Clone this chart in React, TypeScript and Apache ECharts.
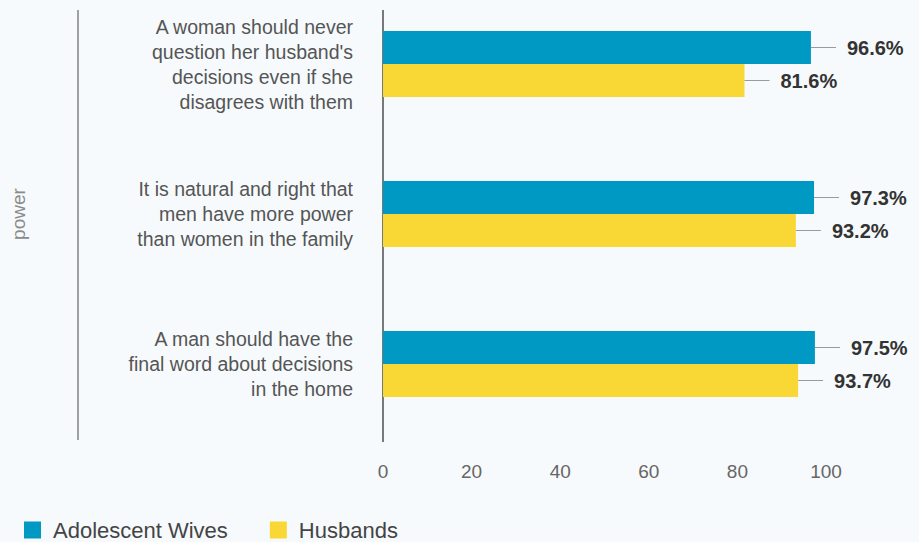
import React, { useEffect, useRef } from "react";
import * as echarts from "echarts";

const categories = [
  "A woman should never\nquestion her husband's\ndecisions even if she\ndisagrees with them",
  "It is natural and right that\nmen have more power\nthan women in the family",
  "A man should have the\nfinal word about decisions\nin the home",
];
const seriesNames = ["Adolescent Wives", "Husbands"];
const wivesValues = [96.6, 97.3, 97.5];
const husbandsValues = [81.6, 93.2, 93.7];
const xTicks = { min: 0, max: 100, interval: 20 };
const axisName = "power";

const FONT = "'Liberation Sans', Arial, Helvetica, sans-serif";
const BLUE = "#0099c4";
const YELLOW = "#f9d836";

const valueLabel = {
  show: true,
  position: "right" as const,
  distance: 0,
  formatter: (p: any) => `{l|}{v|${Number(p.value).toFixed(1)}%}`,
  rich: {
    l: { width: 25, height: 1, backgroundColor: "#9a9a9a" },
    v: {
      fontFamily: FONT,
      fontSize: 20,
      fontWeight: "bold" as const,
      color: "#333333",
      padding: [0, 0, 0, 11],
    },
  },
};

export default function App() {
  const ref = useRef<HTMLDivElement>(null);
  useEffect(() => {
    if (!ref.current) return;
    const chart = echarts.init(ref.current, null, { renderer: "svg" });
    chart.setOption({
      animation: false,
      backgroundColor: "#f6fafc",
      textStyle: { fontFamily: FONT },
      grid: {
        left: 383,
        right: 93,
        top: -11,
        height: 450,
        containLabel: false,
        outerBoundsMode: "none",
      },
      xAxis: {
        type: "value",
        min: xTicks.min,
        max: xTicks.max,
        interval: xTicks.interval,
        axisLine: { show: false },
        axisTick: { show: false },
        splitLine: { show: false },
        axisLabel: { color: "#666666", fontSize: 19, margin: 23, fontFamily: FONT },
      },
      yAxis: {
        type: "category",
        inverse: true,
        data: categories,
        name: axisName,
        nameLocation: "middle",
        nameGap: 355,
        nameRotate: 90,
        nameTextStyle: { color: "#8a8a8a", fontSize: 19, fontFamily: FONT },
        axisLine: { show: false },
        axisTick: { show: false },
        splitLine: { show: false },
        axisLabel: {
          color: "#555555",
          fontSize: 19.5,
          lineHeight: 25,
          margin: 30,
          align: "right",
          fontFamily: FONT,
        },
      },
      legend: {
        left: 19,
        top: 514,
        itemWidth: 17,
        itemHeight: 17,
        itemGap: 42,
        icon: "rect",
        textStyle: { color: "#444444", fontSize: 22, fontFamily: FONT, padding: [0, 0, 0, 7] },
        data: seriesNames,
      },
      graphic: [
        {
          type: "line",
          shape: { x1: 383, y1: 10, x2: 383, y2: 442 },
          style: { stroke: "#222222", lineWidth: 1.2 },
        },
        {
          type: "line",
          shape: { x1: 78, y1: 10, x2: 78, y2: 440 },
          style: { stroke: "#a0a0a0", lineWidth: 2 },
        },
      ],
      series: [
        {
          name: seriesNames[0],
          type: "bar",
          data: wivesValues,
          barWidth: 33,
          barGap: "0%",
          itemStyle: { color: BLUE },
          label: valueLabel,
        },
        {
          name: seriesNames[1],
          type: "bar",
          data: husbandsValues,
          barWidth: 33,
          barGap: "0%",
          itemStyle: { color: YELLOW },
          label: valueLabel,
        },
      ],
    });
    return () => chart.dispose();
  }, []);
  return <div ref={ref} style={{ width: 919, height: 542, position: "fixed", left: 0, top: 0 }} />;
}
